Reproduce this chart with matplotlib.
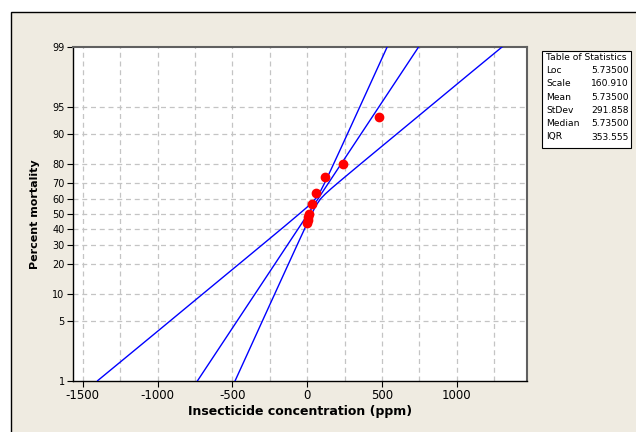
import numpy as np
import matplotlib
matplotlib.use("Agg")
import matplotlib.pyplot as plt
from matplotlib.patches import Rectangle
from matplotlib.ticker import FixedLocator, FixedFormatter, NullLocator

# Observed points (concentration ppm, percent mortality)
conc = [0, 3.75, 7.5, 15, 30, 60, 120, 240, 480]
mortality = [44, 46, 48, 50, 57, 64, 73.6, 80, 93.5]

# Fitted logistic distribution
loc = 5.735
scale = 160.91

# Confidence bands (concentration, percent)
left_x = [-1400, -1200, -1000, -800, -600, -400, -250, -150, -50, 0, 30, 60, 90,
          120, 160, 220, 300, 400, 535]
left_pct = [1.01, 1.97, 3.81, 7.26, 13.38, 23.36, 33.7, 41.7, 50.3, 54.7, 57.5, 60.8,
            65.3, 70.6, 77.3, 85.3, 92.25, 96.7, 99.0]
right_x = [-482, -400, -300, -200, -100, -50, 0, 30, 60, 90, 120, 160, 220, 300,
           400, 550, 700, 900, 1100, 1303]
right_pct = [1.0, 2.07, 4.96, 11.39, 24.0, 33.1, 43.5, 50.0, 55.9, 60.3, 63.3, 66.7,
             71.2, 76.5, 82.1, 88.43, 92.72, 96.18, 98.03, 99.0]

stats_names = ["Loc", "Scale", "Mean", "StDev", "Median", "IQR"]
stats_values = ["5.73500", "160.910", "5.73500", "291.858", "5.73500", "353.555"]

y_ticks = [1, 5, 10, 20, 30, 40, 50, 60, 70, 80, 90, 95, 99]
x_ticks = [-1500, -1000, -500, 0, 500, 1000]
x_grid = np.arange(-1500, 1251, 250)

bg = "#EFEBE1"
fig = plt.figure(figsize=(6.36, 4.32), dpi=100)
fig.patch.set_facecolor("white")
fig.add_artist(Rectangle((11 / 636, -0.1), 1.2, 1 - 12 / 432 + 0.1,
                         transform=fig.transFigure, facecolor=bg,
                         edgecolor="black", linewidth=1.0, zorder=-10))

ax = fig.add_axes([73 / 636, 1 - 381 / 432, (527 - 73) / 636, (381 - 47) / 432])
ax.set_facecolor("white")
ax.set_yscale("logit")
ax.set_xlim(-1565, 1470)
ax.set_ylim(0.01, 0.99)

for gx in x_grid:
    ax.axvline(gx, color="#C4C4C4", lw=0.9, ls=(0, (4, 3)), zorder=1)
for gy in y_ticks[1:-1]:
    ax.axhline(gy / 100, color="#C4C4C4", lw=0.9, ls=(0, (4, 3)), zorder=1)

# fitted line from Loc / Scale
p_fit = np.array([1, 99]) / 100
x_fit = loc + scale * np.log(p_fit / (1 - p_fit))
ax.plot(x_fit, p_fit, color="#0000FF", lw=1.0, zorder=3)
ax.plot(left_x, np.array(left_pct) / 100, color="#0000FF", lw=1.0, zorder=3)
ax.plot(right_x, np.array(right_pct) / 100, color="#0000FF", lw=1.0, zorder=3)

ax.plot(conc, np.array(mortality) / 100, "o", color="#FF0000", ms=6, mec="#FF0000", zorder=4)

ax.yaxis.set_major_locator(FixedLocator([v / 100 for v in y_ticks]))
ax.yaxis.set_major_formatter(FixedFormatter([str(v) for v in y_ticks]))
ax.yaxis.set_minor_locator(NullLocator())
ax.set_xticks(x_ticks)
ax.set_xticklabels([str(v) for v in x_ticks])
ax.tick_params(axis="y", labelsize=7, length=4, width=0.8, pad=2, direction="out")
ax.tick_params(axis="x", labelsize=8.5, length=4, width=0.8, pad=2, direction="out")

for s in ["left", "bottom"]:
    ax.spines[s].set_color("black")
    ax.spines[s].set_linewidth(1.0)
for s in ["top", "right"]:
    ax.spines[s].set_color("#606060")
    ax.spines[s].set_linewidth(1.5)

ax.set_xlabel("Insecticide concentration (ppm)", fontsize=9, fontweight="bold", labelpad=2)
ax.set_ylabel("Percent mortality", fontsize=8, fontweight="bold", labelpad=9)

# Table of statistics
x0, y0, w, h = 541.5 / 636, 1 - 147.5 / 432, 89.5 / 636, 97 / 432
fig.add_artist(Rectangle((x0, y0), w, h, transform=fig.transFigure,
                         facecolor="white", edgecolor="black", lw=0.8, zorder=5))
fig.text(x0 + 5 / 636, 1 - 57.5 / 432, "Table of Statistics", fontsize=6.6,
         va="center", ha="left", zorder=6)
for i, (n, v) in enumerate(zip(stats_names, stats_values)):
    yy = 1 - (70.5 + i * 13.3) / 432
    fig.text(x0 + 5 / 636, yy, n, fontsize=6.6, va="center", ha="left", zorder=6)
    fig.text(x0 + w - 2.5 / 636, yy, v, fontsize=6.6, va="center", ha="right", zorder=6)

fig.savefig("out.png", dpi=100, facecolor=fig.get_facecolor())
